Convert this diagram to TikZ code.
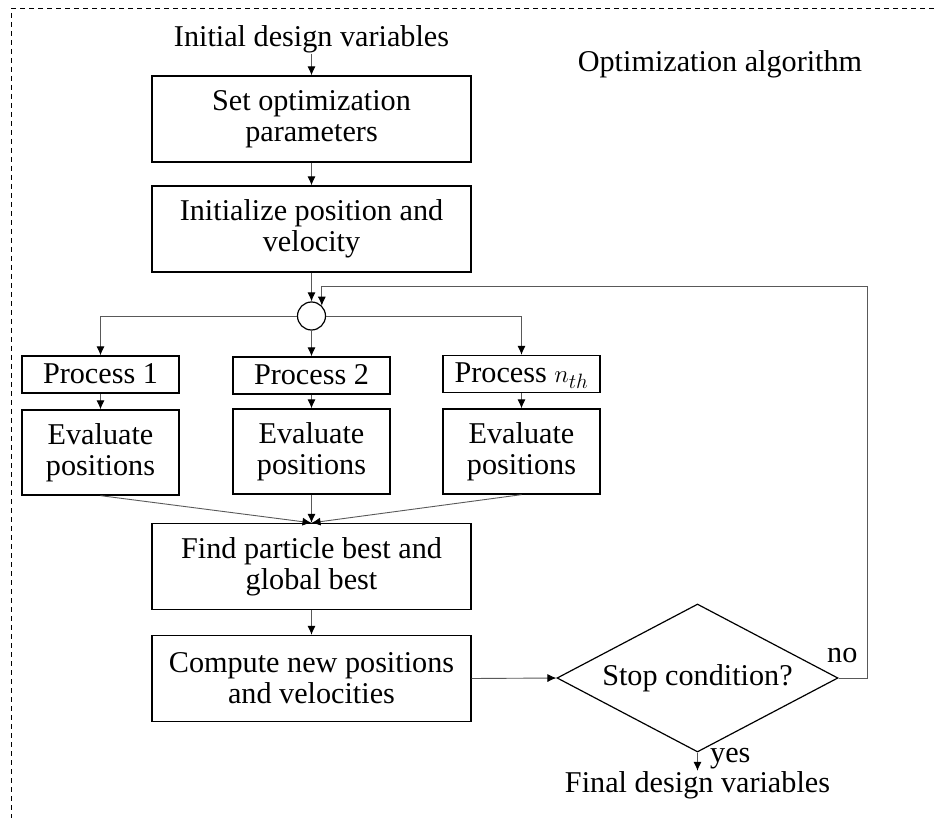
\documentclass[tikz,border=0pt]{standalone}
\usepackage{fontspec}
\setmainfont{Liberation Serif}
\usetikzlibrary{shapes.geometric,arrows.meta}

\tikzset{
  txt/.style={font=\fontsize{30.2}{31}\selectfont, inner sep=0pt, align=center},
  box/.style={txt, draw=black, line width=1.3pt},
  bigbox/.style={box, minimum width=319pt, minimum height=86pt},
  procbox/.style={box, minimum width=157pt, minimum height=37pt, text height=20pt, text depth=3pt},
  evalbox/.style={box, minimum width=157pt, minimum height=85pt},
  junction/.style={circle, draw=black, line width=1.2pt, minimum size=28pt, inner sep=0pt},
  decision/.style={txt, diamond, draw=black, line width=1.2pt, minimum width=281pt, minimum height=148pt, shape aspect=1.9},
  link/.style={draw=black!65, line width=0.9pt},
  arr/.style={link, -{Latex[length=9pt,width=8pt,color=black]}},
  frame/.style={draw=black, line width=1pt, dash pattern=on 5pt off 4pt}
}

\begin{document}
\begin{tikzpicture}[x=1pt, y=-1pt]
  \useasboundingbox (0,0) rectangle (934,818);

  % dashed frame of the algorithm block
  \coordinate (frTR) at (934,9);
  \coordinate (frTL) at (11,9);
  \coordinate (frBL) at (11,818);
  \draw[frame] (frTR) -- (frTL) -- (frBL);

  \node[txt, anchor=base] (title) at (720,72) {Optimization algorithm};

  % main column
  \node[txt, anchor=base] (init) at (311.5,47) {Initial design variables};
  \node[bigbox] (set) at (311.5,119) {Set optimization\\parameters};
  \node[bigbox] (posvel) at (311.5,229) {Initialize position and\\velocity};
  \node[junction] (c) at (311.5,316) {};

  % parallel processes
  \node[procbox] (p1) at (100.5,374.5) {Process 1};
  \node[procbox] (p2) at (311.5,375.5) {Process 2};
  \node[procbox] (pn) at (521.5,374) {Process $n_{th}$};
  \node[evalbox] (e1) at (100.5,452.5) {Evaluate\\positions};
  \node[evalbox] (e2) at (311.5,451.5) {Evaluate\\positions};
  \node[evalbox] (en) at (521.5,451.5) {Evaluate\\positions};

  \node[bigbox] (best) at (311.5,566.5) {Find particle best and\\global best};
  \node[bigbox] (upd) at (311.5,678.5) {Compute new positions\\and velocities};

  \node[decision] (dia) at (697.5,678) {Stop condition?};
  \node[txt, anchor=base west] (no) at (827,662) {no};
  \node[txt, anchor=base west] (yes) at (710,762) {yes};
  \node[txt, anchor=base] (final) at (697.5,792) {Final design variables};

  \coordinate (loopR) at (867,286);

  % connectors
  \draw[arr] (init.south) -- (set.north);
  \draw[arr] (set.south) -- (posvel.north);
  \draw[arr] (posvel.south) -- (c.north);
  \draw[arr] (c.west) -| (p1.north);
  \draw[arr] (c.south) -- (p2.north);
  \draw[arr] (c.east) -| (pn.north);
  \draw[arr] (p1.south) -- (e1.north);
  \draw[arr] (p2.south) -- (e2.north);
  \draw[arr] (pn.south) -- (en.north);
  \draw[arr] (e1.south) -- (best.north);
  \draw[arr] (e2.south) -- (best.north);
  \draw[arr] (en.south) -- (best.north);
  \draw[arr] (best.south) -- (upd.north);
  \draw[arr] (upd.east) -- (dia.west);
  \draw[arr] (dia.east) -| (loopR) -| (c.north east);
  \draw[arr] (dia.south) -- (final.north);
\end{tikzpicture}
\end{document}
